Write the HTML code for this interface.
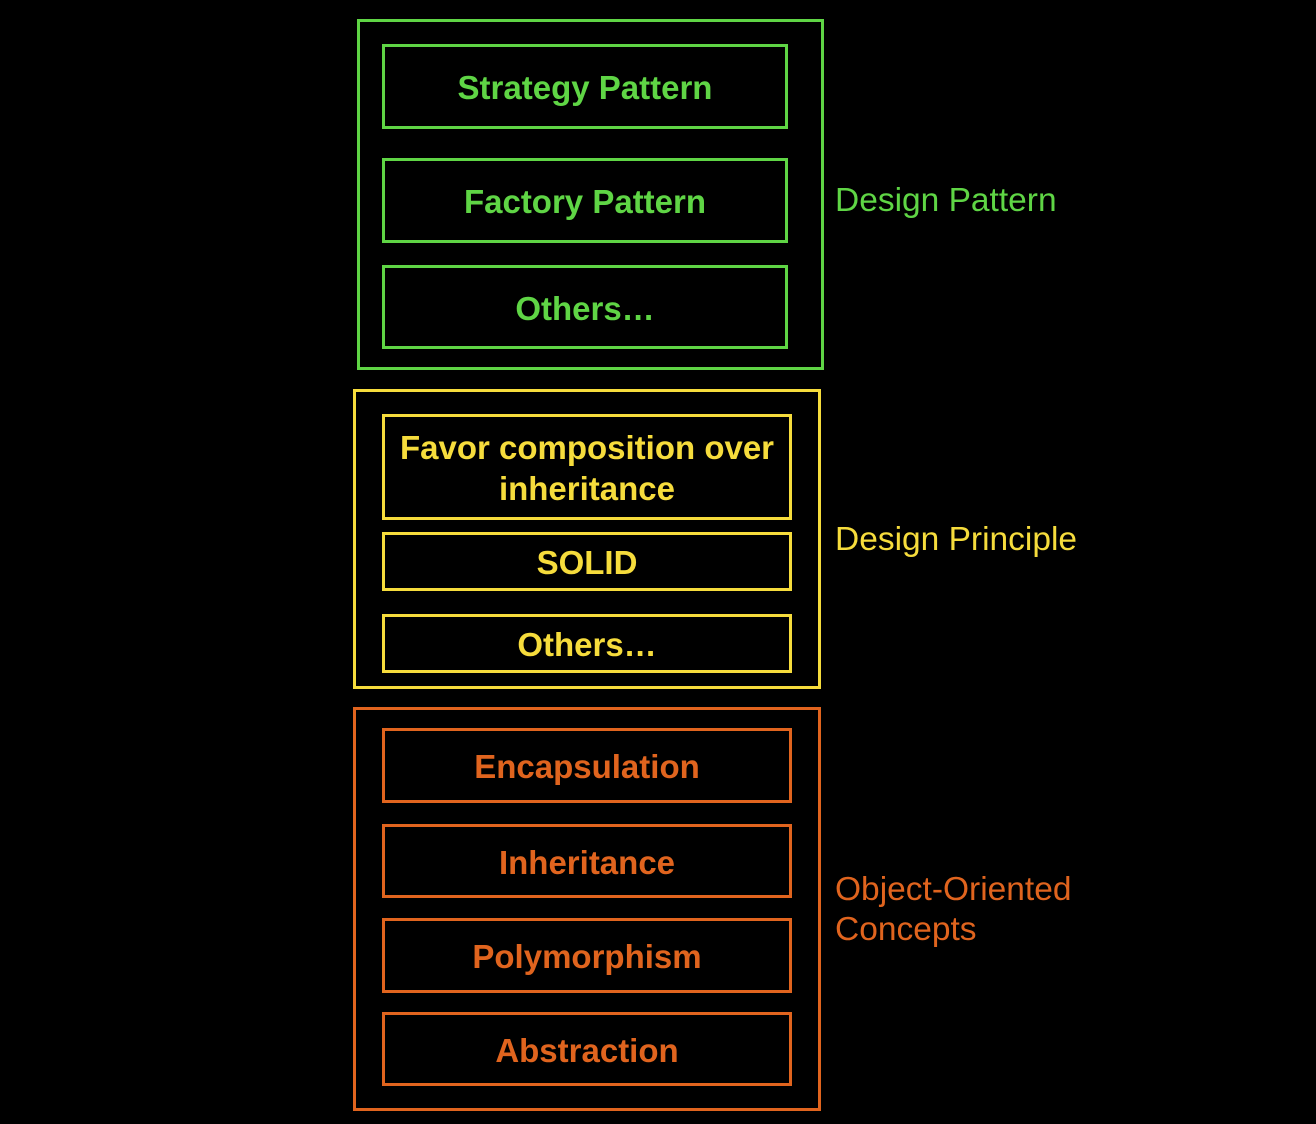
<!DOCTYPE html>
<html><head><style>
body{margin:0;width:1316px;height:1124px;background:#000;position:relative;font-family:"Liberation Sans",sans-serif;overflow:hidden}
.b{position:absolute;box-sizing:border-box;border:3px solid;display:flex;align-items:center;justify-content:center;text-align:center;font-weight:bold;font-size:33px;line-height:41px;padding-top:2px}
.l{position:absolute;font-size:33.5px;line-height:40px}
.g{color:#5fd545;border-color:#5fd545}
.y{color:#f6dc3c;border-color:#f6dc3c}
.o{color:#e0641e;border-color:#e0641e}
</style></head><body>
<div class="b g" style="left:357px;top:19px;width:467px;height:351px"></div>
<div class="b g" style="left:382px;top:44px;width:406px;height:85px">Strategy Pattern</div>
<div class="b g" style="left:382px;top:158px;width:406px;height:85px">Factory Pattern</div>
<div class="b g" style="left:382px;top:265px;width:406px;height:84px">Others…</div>
<div class="l g" style="left:835px;top:181px">Design Pattern</div>

<div class="b y" style="left:353px;top:389px;width:468px;height:300px"></div>
<div class="b y" style="left:382px;top:414px;width:410px;height:106px">Favor composition over<br>inheritance</div>
<div class="b y" style="left:382px;top:532px;width:410px;height:59px">SOLID</div>
<div class="b y" style="left:382px;top:614px;width:410px;height:59px">Others…</div>
<div class="l y" style="left:835px;top:520px">Design Principle</div>

<div class="b o" style="left:353px;top:707px;width:468px;height:404px"></div>
<div class="b o" style="left:382px;top:728px;width:410px;height:75px">Encapsulation</div>
<div class="b o" style="left:382px;top:824px;width:410px;height:74px">Inheritance</div>
<div class="b o" style="left:382px;top:918px;width:410px;height:75px">Polymorphism</div>
<div class="b o" style="left:382px;top:1012px;width:410px;height:74px">Abstraction</div>
<div class="l o" style="left:835px;top:870px">Object-Oriented<br>Concepts</div>
</body></html>
